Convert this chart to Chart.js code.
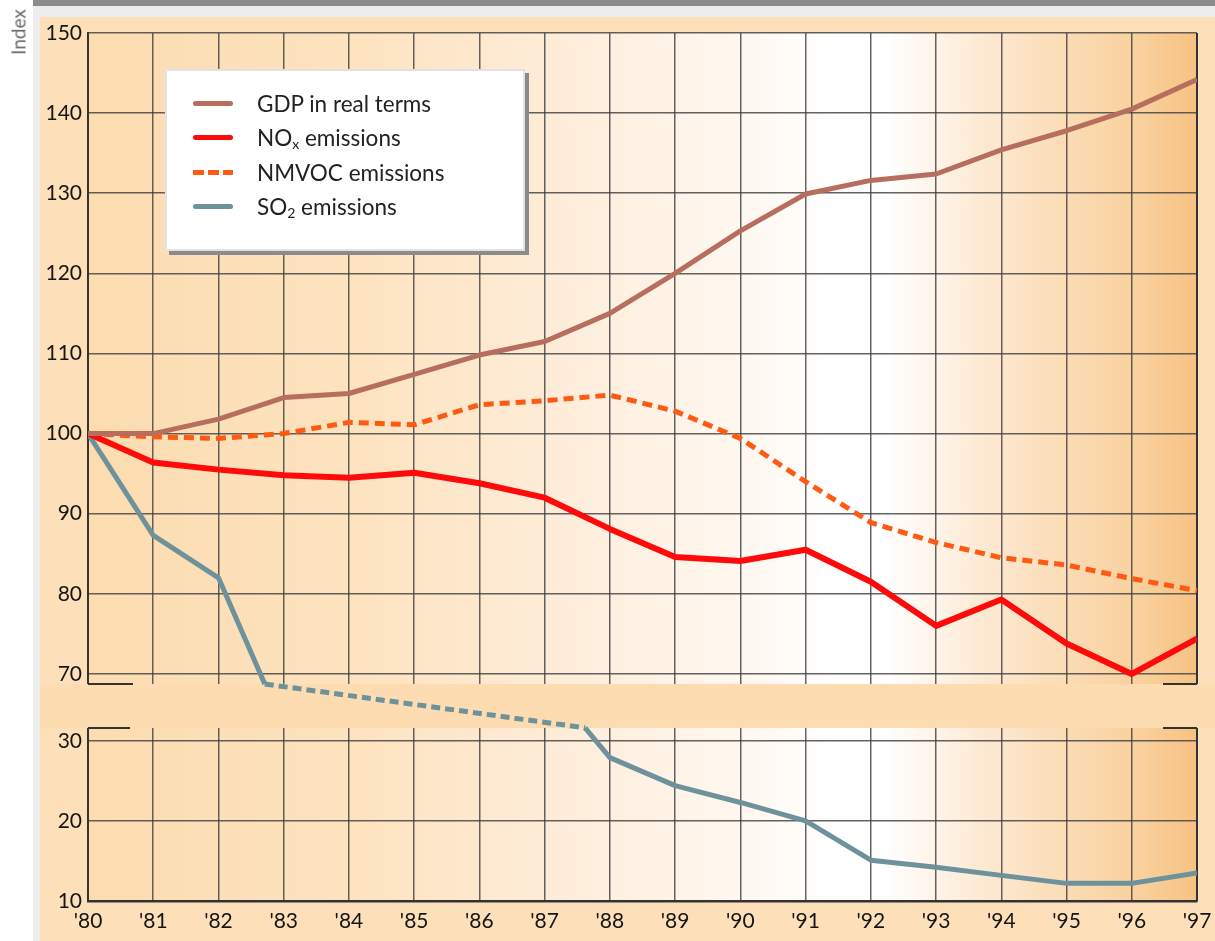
<!DOCTYPE html>
<html>
<head>
<meta charset="utf-8">
<script src="https://cdn.jsdelivr.net/npm/chart.js@4.4.1/dist/chart.umd.min.js"></script>
<style>
    html, body { margin: 0; padding: 0; background: #fff; }
    #wrap { position: relative; width: 1215px; height: 941px; overflow: hidden; }
    #chart { position: absolute; left: 0; top: 0; }
    #yTitle {
        position: absolute; left: 18px; top: 32px;
        transform: translate(-50%, -50%) rotate(-90deg);
        font: 19px Lato, sans-serif; color: #6a6a6a; white-space: nowrap;
    }
    #legend {
        position: absolute; left: 165px; top: 69px; width: 360px; height: 182px;
        box-sizing: border-box; background: #fff;
        border: 2px solid #e2e2e2; box-shadow: 4px 4px 0 #8b8b8b;
    }
    .item {
        position: absolute; left: 26px; height: 28px;
        display: flex; align-items: center;
        font: 22.5px Lato, sans-serif; color: #222; white-space: nowrap;
    }
    .item sub { font-size: 14px; vertical-align: -3px; line-height: 0; }
    .swatch { width: 40px; height: 5px; margin-right: 24px; border-radius: 3px; }
</style>
</head>
<body>
<div id="wrap">
    <canvas id="chart" width="1215" height="941"></canvas>
    <div id="yTitle">Index</div>
    <div id="legend"></div>
</div>
<script>
// Index, 1980 = 100
const years = [80, 81, 82, 83, 84, 85, 86, 87, 88, 89, 90, 91, 92, 93, 94, 95, 96, 97];
const yearLabels = ["'80", "'81", "'82", "'83", "'84", "'85", "'86", "'87", "'88",
    "'89", "'90", "'91", "'92", "'93", "'94", "'95", "'96", "'97"];

const gdp = [100, 100, 101.8, 104.5, 105, 107.4, 109.8, 111.5, 115, 120,
    125.3, 129.9, 131.6, 132.4, 135.4, 137.8, 140.5, 144.2];
const nox = [100, 96.4, 95.5, 94.8, 94.5, 95.1, 93.8, 92, 88.1, 84.6,
    84.1, 85.5, 81.5, 76, 79.3, 73.8, 70, 74.4];
const nmvoc = [100, 99.6, 99.4, 100, 101.4, 101.1, 103.6, 104.1, 104.8, 102.8,
    99.4, 94, 88.9, 86.4, 84.5, 83.6, 81.9, 80.4];

// SO2 leaves the upper panel in '82 and comes back in '87 (dashed across the break)
const so2Years = [80, 81, 82, 82.71, 87.62, 88, 89, 90, 91, 92, 93, 94, 95, 96, 97];
const so2 = [100, 87.3, 82, 68.7, 31.7, 27.9, 24.4, 22.3, 20, 15.1, 14.2, 13.2, 12.2, 12.2, 13.5];

const yTicks = [10, 20, 30, 70, 80, 90, 100, 110, 120, 130, 140, 150];
const breakLow = 31.6;
const breakHigh = 68.75;
const gapShare = 0.0507;

const seriesNames = ["GDP in real terms", "NOx emissions", "NMVOC emissions", "SO2 emissions"];
const legendNames = ["GDP in real terms", "NO<sub>x</sub> emissions", "NMVOC emissions", "SO<sub>2</sub> emissions"];
const seriesColors = ["#b86e5e", "#ff0a0a", "#ff5a14", "#6e929b"];

// linear scale with a break between breakLow and breakHigh
class BrokenScale extends Chart.LinearScale {
    static id = "broken";
    static defaults = {};

    buildTicks() {
        return yTicks.map((v) => ({ value: v }));
    }

    toDecimal(v) {
        const lowSpan = breakLow - this.min;
        const highSpan = this.max - breakHigh;
        const unit = (1 - gapShare) / (lowSpan + highSpan);
        if (v <= breakLow) return (v - this.min) * unit;
        if (v >= breakHigh) return lowSpan * unit + gapShare + (v - breakHigh) * unit;
        return lowSpan * unit + ((v - breakLow) / (breakHigh - breakLow)) * gapShare;
    }

    getPixelForValue(value) {
        return this.getPixelForDecimal(this.toDecimal(value));
    }

    getValueForPixel(pixel) {
        const d = this.getDecimalForPixel(pixel);
        const lowSpan = breakLow - this.min;
        const highSpan = this.max - breakHigh;
        const unit = (1 - gapShare) / (lowSpan + highSpan);
        const lowTop = lowSpan * unit;
        if (d <= lowTop) return this.min + d / unit;
        if (d >= lowTop + gapShare) return breakHigh + (d - lowTop - gapShare) / unit;
        return breakLow + ((d - lowTop) / gapShare) * (breakHigh - breakLow);
    }
}
Chart.register(BrokenScale);

const backdrop = {
    id: "backdrop",
    beforeDraw(chart) {
        const { ctx, chartArea: a } = chart;
        ctx.save();
        ctx.fillStyle = "#ffffff";
        ctx.fillRect(0, 0, chart.width, chart.height);
        ctx.fillStyle = "#ededed";
        ctx.fillRect(33, 6, chart.width - 33, chart.height - 6);
        ctx.fillStyle = "#8c8c8c";
        ctx.fillRect(33, 0, chart.width - 33, 6);
        ctx.fillStyle = "#fde0ba";
        ctx.fillRect(40, 17, chart.width - 40, chart.height - 17);

        const g = ctx.createLinearGradient(a.left, 0, a.right, 0);
        g.addColorStop(0, "#fcdcb0");
        g.addColorStop(0.25, "#fde3c0");
        g.addColorStop(0.45, "#feeedd");
        g.addColorStop(0.62, "#fffaf4");
        g.addColorStop(0.67, "#ffffff");
        g.addColorStop(0.72, "#ffffff");
        g.addColorStop(0.8, "#fdebd6");
        g.addColorStop(0.88, "#fbdcb6");
        g.addColorStop(0.95, "#f9d09c");
        g.addColorStop(1, "#f6c283");
        ctx.fillStyle = g;
        ctx.fillRect(a.left, a.top, a.width, a.height);
        ctx.restore();
    },
};

const scaleBreak = {
    id: "scaleBreak",
    beforeDatasetsDraw(chart) {
        const { ctx, chartArea: a } = chart;
        const y = chart.scales.y;
        const top = y.getPixelForValue(breakHigh);
        const bottom = y.getPixelForValue(breakLow);
        ctx.save();
        ctx.fillStyle = "#fddcb2";
        ctx.fillRect(40, top, chart.width - 40, bottom - top);

        ctx.strokeStyle = "#333";
        ctx.lineWidth = 2;
        ctx.beginPath();
        ctx.moveTo(a.right, a.top);
        ctx.lineTo(a.right, top);
        ctx.moveTo(a.right, bottom);
        ctx.lineTo(a.right, a.bottom);
        ctx.moveTo(a.left, top);
        ctx.lineTo(a.left + 45, top);
        ctx.moveTo(a.right - 34, top);
        ctx.lineTo(a.right, top);
        ctx.moveTo(a.left, bottom);
        ctx.lineTo(a.left + 42, bottom);
        ctx.moveTo(a.right - 34, bottom);
        ctx.lineTo(a.right, bottom);
        ctx.stroke();
        ctx.restore();
    },
};

function toPoints(xs, ys) {
    return xs.map((x, i) => ({ x: x, y: ys[i] }));
}

const inGap = (v) => v >= breakLow && v <= breakHigh;

const lineStyle = {
    pointRadius: 0,
    pointHoverRadius: 0,
    tension: 0,
    fill: false,
    borderJoinStyle: "round",
    borderCapStyle: "butt",
};

const tickFont = { family: "Lato, sans-serif", size: 21 };
const gridStyle = { color: "rgba(60, 60, 60, 0.8)", lineWidth: 1.5, drawTicks: false };

const chart = new Chart(document.getElementById("chart").getContext("2d"), {
    type: "line",
    data: {
        datasets: [
            {
                ...lineStyle,
                label: seriesNames[0],
                data: toPoints(years, gdp),
                borderColor: seriesColors[0],
                borderWidth: 5,
            },
            {
                ...lineStyle,
                label: seriesNames[1],
                data: toPoints(years, nox),
                borderColor: seriesColors[1],
                borderWidth: 6,
            },
            {
                ...lineStyle,
                label: seriesNames[2],
                data: toPoints(years, nmvoc),
                borderColor: seriesColors[2],
                borderWidth: 5,
                borderDash: [10, 6],
            },
            {
                ...lineStyle,
                label: seriesNames[3],
                data: toPoints(so2Years, so2),
                borderColor: seriesColors[3],
                borderWidth: 5,
                segment: {
                    borderDash: (ctx) =>
                        inGap(ctx.p0.parsed.y) && inGap(ctx.p1.parsed.y) ? [9, 5] : undefined,
                },
            },
        ],
    },
    options: {
        responsive: false,
        animation: false,
        events: [],
        layout: { padding: { top: 33, right: 18, left: 0, bottom: 0 } },
        plugins: {
            legend: { display: false },
            tooltip: { enabled: false },
        },
        scales: {
            x: {
                type: "linear",
                min: 80,
                max: 97,
                ticks: {
                    stepSize: 1,
                    autoSkip: false,
                    maxRotation: 0,
                    padding: 8,
                    color: "#151515",
                    font: tickFont,
                    callback: (v) => yearLabels[years.indexOf(Math.round(v))],
                },
                grid: gridStyle,
                border: { color: "#333", width: 2.5 },
                afterFit: (s) => {
                    s.height = 40;
                    s.paddingLeft = 0;
                    s.paddingRight = 0;
                },
            },
            y: {
                type: "broken",
                min: 10,
                max: 150,
                ticks: {
                    padding: 6,
                    color: "#151515",
                    font: tickFont,
                    callback: (v) => String(v),
                },
                grid: gridStyle,
                border: { color: "#333", width: 2 },
                afterFit: (s) => {
                    s.width = 88;
                    s.paddingTop = 0;
                    s.paddingBottom = 0;
                },
            },
        },
    },
    plugins: [backdrop, scaleBreak],
});

// legend box, built from the datasets
const legend = document.getElementById("legend");
chart.data.datasets.forEach((ds, i) => {
    const item = document.createElement("div");
    item.className = "item";
    item.style.top = 18 + i * 34.5 + "px";
    const swatch = document.createElement("div");
    swatch.className = "swatch";
    if (ds.borderDash) {
        swatch.style.borderRadius = "0";
        swatch.style.background =
            "repeating-linear-gradient(to right, " + ds.borderColor + " 0 11px, transparent 11px 15px)";
    } else {
        swatch.style.background = ds.borderColor;
    }
    const text = document.createElement("span");
    text.innerHTML = legendNames[i];
    item.appendChild(swatch);
    item.appendChild(text);
    legend.appendChild(item);
});
</script>
</body>
</html>
